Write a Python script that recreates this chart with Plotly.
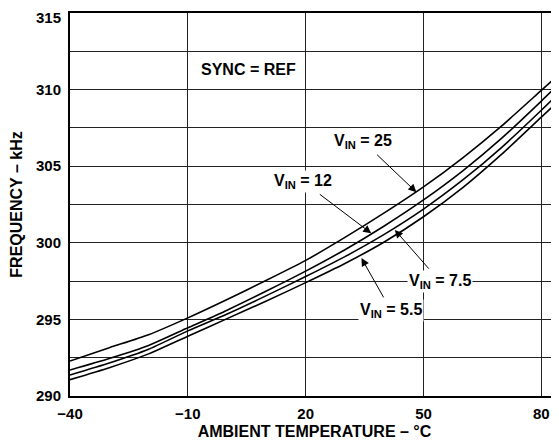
import plotly.graph_objects as go

temps = [-40, -30, -20, -10, 0, 10, 20, 30, 40, 50, 60, 70, 80, 85]
f_vin25 = [292.28, 293.15, 294.0, 295.1, 296.3, 297.55, 298.85, 300.35, 301.95, 303.65, 305.55, 307.65, 309.95, 311.1]
f_vin12 = [291.7, 292.45, 293.3, 294.45, 295.6, 296.85, 298.15, 299.55, 301.1, 302.8, 304.7, 306.85, 309.25, 310.5]
f_vin75 = [291.37, 292.15, 293.05, 294.25, 295.35, 296.55, 297.8, 299.1, 300.55, 302.2, 304.1, 306.25, 308.65, 309.9]
f_vin55 = [291.07, 291.85, 292.75, 293.9, 295.05, 296.2, 297.4, 298.65, 300.05, 301.7, 303.6, 305.8, 308.2, 309.4]

series = [("V<sub>IN</sub> = 25", f_vin25), ("V<sub>IN</sub> = 12", f_vin12),
          ("V<sub>IN</sub> = 7.5", f_vin75), ("V<sub>IN</sub> = 5.5", f_vin55)]

x_ticks = [-40, -10, 20, 50, 80]
x_ticktext = ["\u221240", "\u221210", "20", "50", "80"]
y_ticks = [290, 295, 300, 305, 310]
y_top = 315

FONT = "Arial, 'Liberation Sans', Helvetica, sans-serif"

fig = go.Figure()
for name, ys in series:
    fig.add_trace(go.Scatter(x=temps, y=ys, mode="lines", name=name,
                             line=dict(color="black", width=1.6, shape="spline", smoothing=0.6),
                             showlegend=False, hoverinfo="skip"))

tick_font = dict(family=FONT, size=15, color="black", weight="bold")
ann_font = dict(family=FONT, size=16, color="black", weight="bold")
title_font = dict(family=FONT, size=16, color="black", weight="bold")

# top tick label (kept inside the page edge)
fig.add_annotation(x=0, xref="paper", y=y_top, yref="y", text=str(y_top), showarrow=False,
                   font=tick_font, xanchor="right", yanchor="top", xshift=-7, yshift=6)

fig.add_annotation(x=5.5, y=311.3, text="SYNC = REF", showarrow=False, font=ann_font,
                   bgcolor="white", xref="x", yref="y")

# (label, text centre x, text centre y, arrow tip x, arrow tip y)
arrow_labels = [
    ("V<sub>IN</sub> = 25", 34.7, 306.6, 48.2, 303.3),
    ("V<sub>IN</sub> = 12", 19.3, 304.0, 36.7, 300.62),
    ("V<sub>IN</sub> = 7.5", 54.3, 297.45, 42.7, 300.84),
    ("V<sub>IN</sub> = 5.5", 41.8, 295.55, 34.2, 299.0),
]
for t, tx, ty, x, y in arrow_labels:
    fig.add_annotation(x=x, y=y, ax=tx, ay=ty, axref="x", ayref="y", xref="x", yref="y",
                       text=t, font=ann_font, bgcolor="white", borderpad=1,
                       showarrow=True, arrowhead=2, arrowsize=1.6,
                       arrowwidth=1, arrowcolor="black", standoff=0, startstandoff=3)

fig.update_layout(
    width=551, height=437,
    margin=dict(l=62, r=0, t=5, b=49),
    plot_bgcolor="white", paper_bgcolor="white",
    font=dict(family=FONT, color="black"),
)
fig.update_xaxes(
    range=[-40, 84.5], tickvals=x_ticks, ticktext=x_ticktext,
    showgrid=True, gridcolor="#222", gridwidth=1,
    showline=True, linecolor="black", linewidth=2, mirror=True,
    ticks="", tickfont=tick_font, ticklabelstandoff=3, ticklabeloverflow="allow",
    zeroline=False, automargin=False,
    title=dict(text="AMBIENT TEMPERATURE \u2013 \u00b0C", font=title_font, standoff=5),
)
fig.update_yaxes(
    range=[290, 315], tickvals=y_ticks,
    showgrid=True, gridcolor="#222", gridwidth=1,
    minor=dict(dtick=2.5, tick0=290, showgrid=True, gridcolor="#222", gridwidth=1),
    showline=True, linecolor="black", linewidth=2, mirror=False,
    ticks="", tickfont=tick_font, ticklabelstandoff=4, ticklabeloverflow="allow",
    zeroline=False, automargin=False,
    title=dict(text="FREQUENCY \u2013 kHz", font=title_font, standoff=9),
)

fig.write_html("out.html")
